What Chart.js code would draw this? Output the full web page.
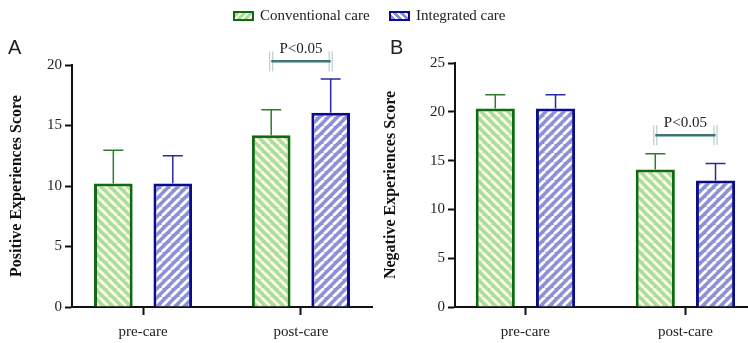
<!DOCTYPE html>
<html>
<head>
<meta charset="utf-8">
<script src="https://cdn.jsdelivr.net/npm/chart.js@4"></script>
<style>
  body { margin: 0; background: #fff; width: 748px; height: 343px; overflow: hidden; position: relative; }
  canvas { position: absolute; top: 0; }
  #chartA { left: 0; }
  #chartB { left: 374px; }
  .panel { position: absolute; font: 20px "Liberation Sans", Arial, sans-serif; color: #222; }
  .legend { position: absolute; top: 7px; font: 15px "Liberation Serif", serif; color: #222; }
  .legend span.box { display: inline-block; width: 17px; height: 6px; vertical-align: middle; margin-right: 6px; position: relative; top: -1px; }
</style>
</head>
<body>
<canvas id="chartA" width="374" height="343"></canvas>
<canvas id="chartB" width="374" height="343"></canvas>
<div class="panel" style="left:8px;top:36px">A</div>
<div class="panel" style="left:390px;top:36px">B</div>
<div class="legend" style="left:233px"><span class="box" style="border:2px solid #0f6a12;background:repeating-linear-gradient(135deg,#a8dda8 0 3px,#fffbd6 3px 5px)"></span>Conventional care</div>
<div class="legend" style="left:389px"><span class="box" style="border:2px solid #0b0b8f;background:repeating-linear-gradient(45deg,#8c91d6 0 3px,#ffffff 3px 5px)"></span>Integrated care</div>
<script>
// categories and values
const categories = ['pre-care', 'post-care'];
const seriesNames = ['Conventional care', 'Integrated care'];

const posConv = [10.2, 14.2];
const posConvSD = [2.75, 2.1];
const posInt = [10.2, 16.05];
const posIntSD = [2.3, 2.8];

const negConv = [20.35, 14.1];
const negConvSD = [1.4, 1.6];
const negInt = [20.35, 12.95];
const negIntSD = [1.4, 1.75];

const posTicks = [0, 5, 10, 15, 20];
const negTicks = [0, 5, 10, 15, 20, 25];

// significance brackets: [category index, value level]
const posBracket = [1, 20.3];
const negBracket = [1, 17.6];

const greenBorder = '#0f6a12';
const blueBorder = '#0b0b8f';
const serif = '"Liberation Serif", "Times New Roman", serif';

function makePattern(bg, fg, dir) {
    const s = 9;
    const c = document.createElement('canvas');
    c.width = s; c.height = s;
    const x = c.getContext('2d');
    x.fillStyle = bg;
    x.fillRect(0, 0, s, s);
    x.strokeStyle = fg;
    x.lineWidth = 2.8;
    for (let k = -1; k <= 1; k++) {
        x.beginPath();
        if (dir == 'back') {
            x.moveTo(k * s, 0); x.lineTo(k * s + s, s);
        } else {
            x.moveTo(k * s, s); x.lineTo(k * s + s, 0);
        }
        x.stroke();
    }
    return x.createPattern(c, 'repeat');
}

const greenFill = makePattern('#a8dda8', '#fffbd6', 'back');
const blueFill = makePattern('#8c91d6', '#ffffff', 'fwd');

const errorBars = {
    id: 'errorBars',
    afterDatasetsDraw(chart, args, opts) {
        const ctx = chart.ctx;
        const y = chart.scales.y;
        ctx.save();
        opts.sd.forEach((sds, di) => {
            const meta = chart.getDatasetMeta(di);
            ctx.strokeStyle = opts.colors[di];
            ctx.lineWidth = 1.5;
            meta.data.forEach((bar, i) => {
                const top = y.getPixelForValue(opts.means[di][i] + sds[i]);
                ctx.beginPath();
                ctx.moveTo(bar.x, bar.y);
                ctx.lineTo(bar.x, top);
                ctx.moveTo(bar.x - 10, top);
                ctx.lineTo(bar.x + 10, top);
                ctx.stroke();
            });
        });
        // significance bracket
        const idx = opts.bracket[0];
        const x1 = chart.getDatasetMeta(0).data[idx].x;
        const x2 = chart.getDatasetMeta(1).data[idx].x;
        const by = y.getPixelForValue(opts.bracket[1]);
        ctx.strokeStyle = '#a9c4c8';
        ctx.lineWidth = 1;
        [x1, x2].forEach(xx => {
            ctx.beginPath();
            ctx.moveTo(xx - 1.5, by - 10); ctx.lineTo(xx - 1.5, by + 10);
            ctx.moveTo(xx + 1.5, by - 10); ctx.lineTo(xx + 1.5, by + 10);
            ctx.stroke();
        });
        ctx.strokeStyle = '#3b7575';
        ctx.lineWidth = 2.5;
        ctx.beginPath();
        ctx.moveTo(x1, by);
        ctx.lineTo(x2, by);
        ctx.stroke();
        ctx.fillStyle = '#222';
        ctx.font = '15px ' + serif;
        ctx.textAlign = 'center';
        ctx.textBaseline = 'middle';
        ctx.fillText('P<0.05', (x1 + x2) / 2, by - 12);
        ctx.restore();
    }
};

function buildChart(id, conv, convSD, integ, integSD, ticks, title, xMin, xMax, pad, yWidth, bracket) {
    const toPoints = arr => arr.map((v, i) => ({ x: i, y: v }));
    return new Chart(document.getElementById(id), {
        type: 'bar',
        data: {
            datasets: [
                {
                    label: seriesNames[0],
                    data: toPoints(conv),
                    backgroundColor: greenFill,
                    borderColor: greenBorder,
                    borderWidth: 3,
                    categoryPercentage: 0.753,
                    barPercentage: 0.65
                },
                {
                    label: seriesNames[1],
                    data: toPoints(integ),
                    backgroundColor: blueFill,
                    borderColor: blueBorder,
                    borderWidth: 3,
                    categoryPercentage: 0.753,
                    barPercentage: 0.65
                }
            ]
        },
        options: {
            responsive: false,
            animation: false,
            devicePixelRatio: 1,
            layout: { padding: pad },
            plugins: {
                legend: { display: false },
                tooltip: { enabled: false },
                errorBars: {
                    sd: [convSD, integSD],
                    means: [conv, integ],
                    colors: ['#2e7d2e', '#2a2aa6'],
                    bracket: bracket
                }
            },
            scales: {
                x: {
                    type: 'linear',
                    min: xMin,
                    max: xMax,
                    offset: false,
                    afterFit: s => { s.height = 36; },
                    afterBuildTicks: s => { s.ticks = categories.map((c, i) => ({ value: i })); },
                    ticks: {
                        padding: 8,
                        color: '#222',
                        font: { family: serif, size: 15 },
                        callback: v => categories[v]
                    },
                    grid: { offset: false, drawOnChartArea: false, tickLength: 8, tickWidth: 2, tickColor: '#111' },
                    border: { color: '#111', width: 2 }
                },
                y: {
                    min: ticks[0],
                    max: ticks[ticks.length - 1],
                    afterFit: s => { s.width = yWidth; },
                    afterBuildTicks: s => { s.ticks = ticks.map(v => ({ value: v })); },
                    ticks: {
                        padding: 3,
                        color: '#222',
                        font: { family: serif, size: 15 }
                    },
                    grid: { drawOnChartArea: false, tickLength: 7, tickWidth: 2, tickColor: '#111' },
                    border: { color: '#111', width: 2 },
                    title: {
                        display: true,
                        text: title,
                        color: '#111',
                        padding: { top: 7, bottom: 0 },
                        font: { family: serif, size: 16, weight: 'bold' }
                    }
                }
            }
        },
        plugins: [errorBars]
    });
}

buildChart('chartA', posConv, posConvSD, posInt, posIntSD, posTicks,
    'Positive Experiences Score', -0.45, 1.45, { top: 65, right: 2, bottom: 0, left: 0 }, 72, posBracket);
buildChart('chartB', negConv, negConvSD, negInt, negIntSD, negTicks,
    'Negative Experiences Score', -0.44, 1.385, { top: 63, right: 1, bottom: 0, left: 0 }, 81, negBracket);
</script>
</body>
</html>
